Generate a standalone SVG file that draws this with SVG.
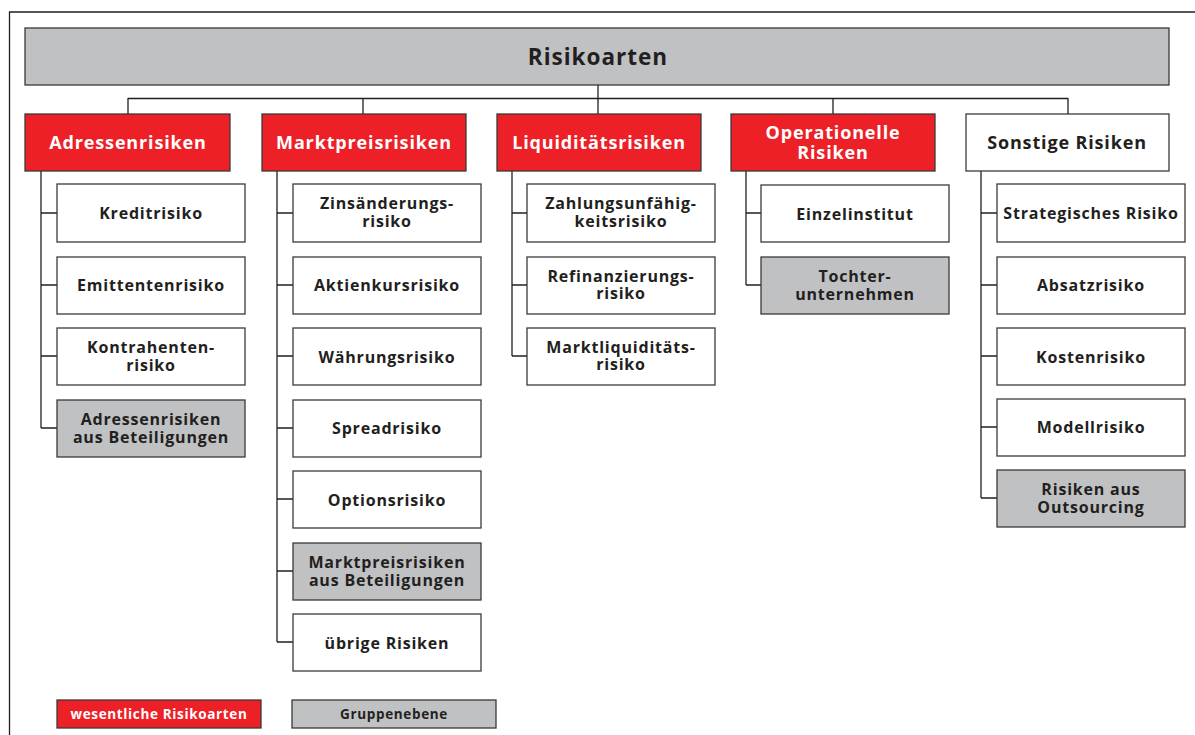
<svg xmlns="http://www.w3.org/2000/svg" width="1195" height="735" viewBox="0 0 1195 735">
<style>
text{font-family:"Open Sans","Noto Sans","DejaVu Sans",sans-serif;font-weight:bold;text-anchor:middle;fill:#231f20}
.box{stroke:#3a3a3a;stroke-width:1.3}
.w{fill:#ffffff}
.g{fill:#c0c1c3}
.r{fill:#ed2027}
.t{font-size:16px;letter-spacing:0.8px}
.c{font-size:18px;letter-spacing:0.85px}
.cw{fill:#ffffff}
.ln{fill:none;stroke:#231f20;stroke-width:1.3}
.lg{font-size:13.5px;letter-spacing:0.65px}
</style>
<rect width="1195" height="735" fill="#ffffff"/>
<g id="frame"><path class="ln" d="M9.5,735 V12 H1195"/></g>
<g id="connectors">
<path class="ln" d="M598,85 V114 M128,98.5 H1068 M128,98 V114 M363,98 V114 M833,98 V114 M1068,98 V114"/>
<path class="ln" d="M41,171 V428 M41,213 H57 M41,285 H57 M41,356 H57 M41,428 H57"/>
<path class="ln" d="M277,171 V642 M277,213 H293 M277,285 H293 M277,356 H293 M277,428 H293 M277,499 H293 M277,571 H293 M277,642 H293"/>
<path class="ln" d="M512,171 V356 M512,213 H527 M512,285 H527 M512,356 H527"/>
<path class="ln" d="M746,171 V285 M746,213 H761 M746,285 H761"/>
<path class="ln" d="M981,171 V498 M981,213 H997 M981,285 H997 M981,356 H997 M981,427 H997 M981,498 H997"/>
</g>
<g id="root"><rect class="box g" x="25" y="28" width="1144" height="57"/><text x="598" y="64.5" style="font-size:22.5px;letter-spacing:1px">Risikoarten</text></g>
<g id="adressen"><rect class="box r" x="25" y="114" width="205" height="57"/><text class="c cw" x="128" y="149">Adressenrisiken</text></g>
<g id="marktpreis"><rect class="box r" x="262" y="114" width="204" height="57"/><text class="c cw" x="364" y="149">Marktpreisrisiken</text></g>
<g id="liquiditaet"><rect class="box r" x="497" y="114" width="204" height="57"/><text class="c cw" x="599" y="149">Liquiditätsrisiken</text></g>
<g id="operationelle"><rect class="box r" x="731" y="114" width="204" height="57"/><text class="c cw" x="833" y="139">Operationelle<tspan x="833" dy="19.5">Risiken</tspan></text></g>
<g id="sonstige"><rect class="box w" x="966" y="114" width="203" height="57"/><text class="c" x="1067" y="149">Sonstige Risiken</text></g>

<g id="kredit"><rect class="box w" x="57" y="184" width="188" height="58"/><text class="t" x="151" y="218.5">Kreditrisiko</text></g>
<g id="emittenten"><rect class="box w" x="57" y="257" width="188" height="57"/><text class="t" x="151" y="291">Emittentenrisiko</text></g>
<g id="kontrahenten"><rect class="box w" x="57" y="328" width="188" height="57"/><text class="t" x="151" y="353">Kontrahenten-<tspan x="151" dy="17.5">risiko</tspan></text></g>
<g id="adr-beteiligungen"><rect class="box g" x="57" y="400" width="188" height="57"/><text class="t" x="151" y="425">Adressenrisiken<tspan x="151" dy="17.5">aus Beteiligungen</tspan></text></g>

<g id="zins"><rect class="box w" x="293" y="184" width="188" height="58"/><text class="t" x="387" y="209">Zinsänderungs-<tspan x="387" dy="17.5">risiko</tspan></text></g>
<g id="aktien"><rect class="box w" x="293" y="257" width="188" height="57"/><text class="t" x="387" y="291">Aktienkursrisiko</text></g>
<g id="waehrung"><rect class="box w" x="293" y="328" width="188" height="57"/><text class="t" x="387" y="362.5">Währungsrisiko</text></g>
<g id="spread"><rect class="box w" x="293" y="400" width="188" height="57"/><text class="t" x="387" y="434">Spreadrisiko</text></g>
<g id="options"><rect class="box w" x="293" y="471" width="188" height="57"/><text class="t" x="387" y="505.5">Optionsrisiko</text></g>
<g id="mp-beteiligungen"><rect class="box g" x="293" y="543" width="188" height="57"/><text class="t" x="387" y="568">Marktpreisrisiken<tspan x="387" dy="17.5">aus Beteiligungen</tspan></text></g>
<g id="uebrige"><rect class="box w" x="293" y="614" width="188" height="57"/><text class="t" x="387" y="648.5">übrige Risiken</text></g>

<g id="zahlung"><rect class="box w" x="527" y="184" width="188" height="58"/><text class="t" x="621" y="209">Zahlungsunfähig-<tspan x="621" dy="17.5">keitsrisiko</tspan></text></g>
<g id="refinanzierung"><rect class="box w" x="527" y="257" width="188" height="57"/><text class="t" x="621" y="281.5">Refinanzierungs-<tspan x="621" dy="17.5">risiko</tspan></text></g>
<g id="marktliquiditaet"><rect class="box w" x="527" y="328" width="188" height="57"/><text class="t" x="621" y="352.5">Marktliquiditäts-<tspan x="621" dy="17.5">risiko</tspan></text></g>

<g id="einzelinstitut"><rect class="box w" x="761" y="185" width="188" height="57"/><text class="t" x="855" y="219.5">Einzelinstitut</text></g>
<g id="tochter"><rect class="box g" x="761" y="257" width="188" height="57"/><text class="t" x="855" y="282">Tochter-<tspan x="855" dy="17.5">unternehmen</tspan></text></g>

<g id="strategisch"><rect class="box w" x="997" y="184" width="188" height="58"/><text class="t" x="1091" y="218.5">Strategisches Risiko</text></g>
<g id="absatz"><rect class="box w" x="997" y="257" width="188" height="57"/><text class="t" x="1091" y="291">Absatzrisiko</text></g>
<g id="kosten"><rect class="box w" x="997" y="328" width="188" height="57"/><text class="t" x="1091" y="362.5">Kostenrisiko</text></g>
<g id="modell"><rect class="box w" x="997" y="399" width="188" height="57"/><text class="t" x="1091" y="433">Modellrisiko</text></g>
<g id="outsourcing"><rect class="box g" x="997" y="470" width="188" height="57"/><text class="t" x="1091" y="495">Risiken aus<tspan x="1091" dy="17.5">Outsourcing</tspan></text></g>

<g id="legend-wesentlich"><rect class="box r" x="57" y="700" width="204" height="28"/><text class="lg cw" x="159" y="719">wesentliche Risikoarten</text></g>
<g id="legend-gruppe"><rect class="box g" x="292" y="700" width="204" height="28"/><text class="lg" x="394" y="719">Gruppenebene</text></g>
</svg>
